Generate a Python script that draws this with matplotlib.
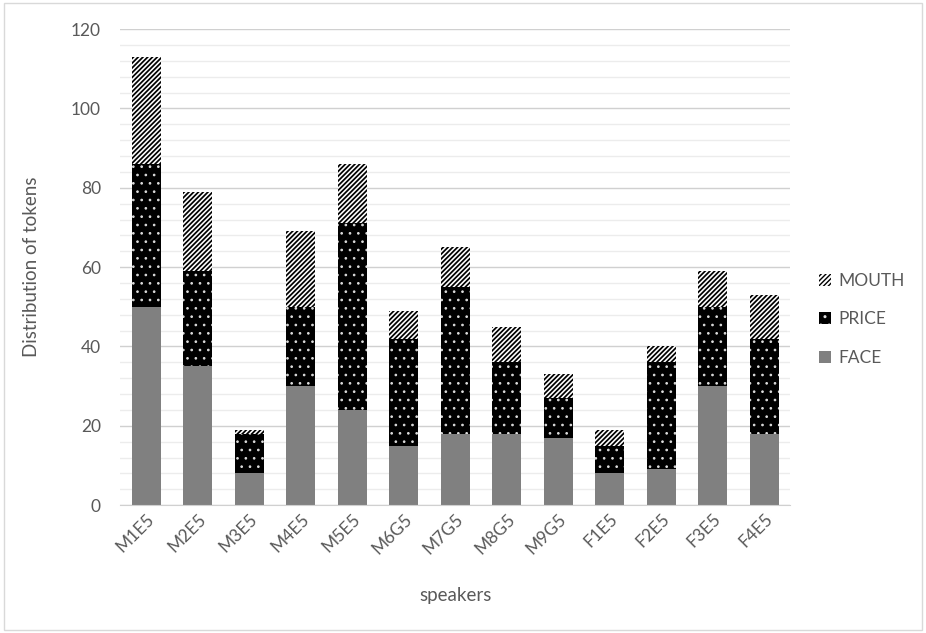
import matplotlib
matplotlib.use("Agg")
import matplotlib.pyplot as plt
from matplotlib.patches import Rectangle
import numpy as np

plt.rcParams['font.family'] = ['Lato', 'DejaVu Sans']

speakers = ["M1E5", "M2E5", "M3E5", "M4E5", "M5E5", "M6G5", "M7G5",
            "M8G5", "M9G5", "F1E5", "F2E5", "F3E5", "F4E5"]
face = [50, 35, 8, 30, 24, 15, 18, 18, 17, 8, 9, 30, 18]
price = [36, 24, 10, 20, 47, 27, 37, 18, 10, 7, 27, 20, 24]
mouth = [27, 20, 1, 19, 15, 7, 10, 9, 6, 4, 4, 9, 11]

text_color = "#595959"

fig = plt.figure(figsize=(9.26, 6.33), dpi=100)
ax = fig.add_axes([0.130, 0.202, 0.723, 0.752])

x = np.arange(len(speakers))
w = 0.56
face_arr = np.array(face)
price_arr = np.array(price)
mouth_arr = np.array(mouth)

b1 = ax.bar(x, face_arr, w, color="#808080", linewidth=0, label="FACE", zorder=3)
with plt.rc_context({'hatch.linewidth': 0.7}):
    b2 = ax.bar(x, price_arr, w, bottom=face_arr, color="black", edgecolor="#dddddd",
                hatch="..", linewidth=0, label="PRICE", zorder=3)
with plt.rc_context({'hatch.linewidth': 1.25}):
    b3 = ax.bar(x, mouth_arr, w, bottom=face_arr + price_arr, color="white",
                edgecolor="black", hatch="///////", linewidth=0, label="MOUTH", zorder=3)

ax.set_ylim(0, 120)
ax.set_xlim(-0.5, len(speakers) - 0.5)
ax.set_yticks(np.arange(0, 121, 20))
ax.set_yticks(np.arange(0, 121, 4), minor=True)
ax.grid(axis="y", which="major", color="#d0d0d0", linewidth=1.0, zorder=0)
ax.grid(axis="y", which="minor", color="#ececec", linewidth=1.0, zorder=0)
ax.tick_params(axis="y", which="both", length=0, labelsize=12.5, labelcolor=text_color, pad=14)
ax.tick_params(axis="x", length=0, labelsize=12.5, labelcolor=text_color, pad=4)
ax.set_xticks(x)
ax.set_xticklabels(speakers, rotation=45, ha="right", rotation_mode="anchor")

for s in ["top", "right", "left"]:
    ax.spines[s].set_visible(False)
ax.spines["bottom"].set_color("#d0d0d0")
ax.spines["bottom"].set_zorder(4)

ax.set_ylabel("Distribution of tokens", fontsize=13.5, color=text_color, labelpad=22)
ax.set_xlabel("speakers", fontsize=13.5, color=text_color, labelpad=22)

handles = [b3, b2, b1]
leg = ax.legend(handles, ["MOUTH", "PRICE", "FACE"], loc="center left",
                bbox_to_anchor=(1.02, 0.39), frameon=False, fontsize=12.5,
                labelspacing=1.3, handlelength=0.7, handleheight=0.7,
                handletextpad=0.4)
for t in leg.get_texts():
    t.set_color(text_color)

fig.patches.append(Rectangle((0.004, 0.004), 0.992, 0.992, transform=fig.transFigure,
                             fill=False, edgecolor="#d9d9d9", linewidth=1.0))

fig.savefig("out.png", dpi=100)
